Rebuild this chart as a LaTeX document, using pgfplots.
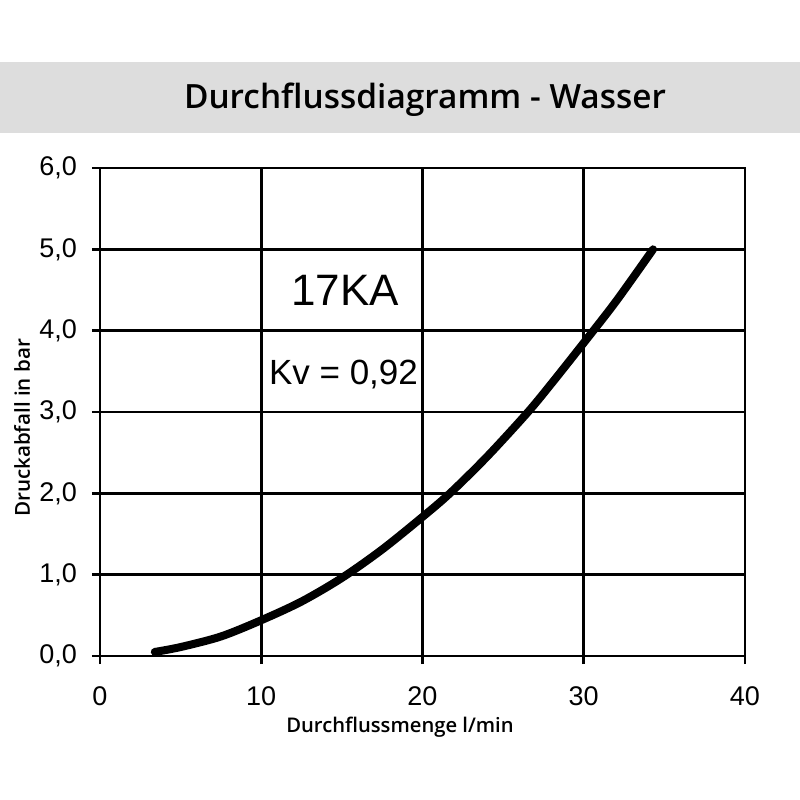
\documentclass[border=0pt]{standalone}
\usepackage{fontspec}
\setmainfont{Liberation Sans}
\IfFontExistsTF{Open Sans SemiBold}{%
  \newfontfamily\opensans{Open Sans SemiBold}\def\sbmode#1{#1}%
}{\IfFontExistsTF{Open Sans Semibold}{%
  \newfontfamily\opensans{Open Sans Semibold}\def\sbmode#1{#1}%
}{%
  \newfontfamily\opensans{Open Sans}%
  \def\sbmode#1{\special{pdf:literal 2 Tr 0.35 w}#1\special{pdf:literal 0 Tr}}%
}}
\usepackage{pgfplots}
\pgfplotsset{compat=1.18}
\definecolor{band}{RGB}{221,221,221}
\begin{document}
\begin{tikzpicture}[x=1pt,y=1pt]
\fill[white] (-50,-72) rectangle (350,328);
\fill[band] (-50,261.5) rectangle (350,297);
\node[font=\opensans\fontsize{16.7}{16.7}\selectfont] at (162.5,278) {\sbmode{Durchflussdiagramm - Wasser}};
\begin{axis}[
  at={(0,0)}, anchor=south west,
  width=322.5pt, height=244pt, scale only axis,
  xmin=0, xmax=40, ymin=0, ymax=6,
  xtick={0,10,20,30,40}, ytick={0,1,2,3,4,5,6},
  grid=major, grid style={black, line width=1.4pt},
  axis line style={black, line width=1.4pt},
  tick style={black, line width=1.4pt},
  major tick length=4pt, tick align=outside, tick pos=left,
  /pgf/number format/assume math mode=true,
  ticklabel style={font=\fontsize{13.5}{13.5}\selectfont},
  yticklabel style={xshift=-4pt, /pgf/number format/.cd, fixed, fixed zerofill, precision=1, use comma},
  xticklabel style={yshift=-8pt, /pgf/number format/.cd, fixed, precision=0},
  clip=false,
]
\addplot[black, line width=4pt, smooth, line cap=round] coordinates {
(3.4,0.05) (5,0.11) (7.5,0.24) (10,0.44) (12.5,0.67) (15,0.96) (17.5,1.31) (20,1.71) (21.7,2.0) (24,2.45) (26.5,2.99) (28,3.35) (30,3.85) (32,4.36) (34.3,5.0)
};
\node[font=\fontsize{22}{22}\selectfont] at (axis cs:15.2,4.49) {17KA};
\node[font=\fontsize{17.5}{17.5}\selectfont] at (axis cs:15.1,3.46) {Kv = 0,92};
\end{axis}
\node[font=\opensans\fontsize{10.1}{10.1}\selectfont] at (150,-35.5) {\sbmode{Durchflussmenge l/min}};
\node[font=\opensans\fontsize{10.3}{10.3}\selectfont, rotate=90] at (-39,114) {\sbmode{Druckabfall in bar}};
\end{tikzpicture}
\end{document}
